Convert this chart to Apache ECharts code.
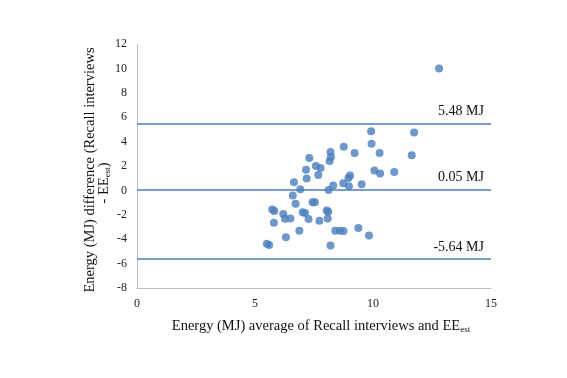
<!DOCTYPE html>
<html>
<head>
<meta charset="utf-8">
<script src="https://cdn.jsdelivr.net/npm/echarts@6/dist/echarts.min.js"></script>
<style>html,body{margin:0;padding:0;background:#fff}#c{width:567px;height:378px}</style>
</head>
<body>
<div id="c"></div>
<script>
// Bland-Altman data: x = average, y = difference
const avgValues = [12.8, 9.92, 11.74, 9.94, 8.76, 8.2, 9.22, 10.28, 11.64, 8.22, 7.3, 8.16, 7.16, 7.58, 7.78, 7.68, 7.19, 10.06, 10.3, 10.9, 9.03, 8.96, 8.74, 8.98, 9.52, 8.31, 8.12, 6.92, 6.65, 6.6, 6.72, 7.44, 7.54, 5.73, 5.82, 6.2, 6.27, 6.5, 7.02, 7.12, 7.27, 5.8, 7.73, 8.04, 8.1, 8.08, 6.88, 6.31, 5.5, 5.6, 8.2, 8.4, 8.6, 8.75, 9.38, 9.83];
const diffValues = [10.0, 4.84, 4.75, 3.83, 3.58, 3.14, 3.06, 3.06, 2.89, 2.73, 2.65, 2.4, 1.7, 2.0, 1.83, 1.27, 0.98, 1.64, 1.39, 1.5, 1.23, 1.01, 0.58, 0.33, 0.5, 0.41, 0.03, 0.1, 0.67, -0.41, -1.09, -0.98, -0.98, -1.56, -1.68, -1.94, -2.32, -2.3, -1.8, -1.85, -2.35, -2.66, -2.48, -1.64, -1.75, -2.3, -3.3, -3.83, -4.37, -4.48, -4.52, -3.3, -3.3, -3.33, -3.08, -3.69];
const limitValues = [5.48, 0.05, -5.64];
const limitUnit = 'MJ';
const xTicks = {min: 0, max: 15, interval: 5};
const yTicks = {min: -8, max: 12, interval: 2};

const points = avgValues.map((x, i) => [x, diffValues[i]]);
const serif = '"Liberation Serif", "Times New Roman", serif';
const blue = '#4A7EBB';

const chart = echarts.init(document.getElementById('c'), null, {renderer: 'canvas'});
chart.setOption({
  animation: false,
  backgroundColor: '#fff',
  grid: {left: 137, right: 76, top: 44, bottom: 90, containLabel: false},
  xAxis: {
    type: 'value', min: xTicks.min, max: xTicks.max, interval: xTicks.interval,
    axisLine: {show: true, onZero: false, lineStyle: {color: '#BFBFBF', width: 1}},
    axisTick: {show: false},
    splitLine: {show: false},
    axisLabel: {color: '#222', fontFamily: serif, fontSize: 12, margin: 10}
  },
  yAxis: {
    type: 'value', min: yTicks.min, max: yTicks.max, interval: yTicks.interval,
    axisLine: {show: true, onZero: false, lineStyle: {color: '#BFBFBF', width: 1}},
    axisTick: {show: false},
    splitLine: {show: false},
    axisLabel: {color: '#222', fontFamily: serif, fontSize: 12, margin: 10}
  },
  series: [{
    type: 'scatter',
    data: points,
    symbol: 'circle',
    symbolSize: 8,
    itemStyle: {color: blue},
    markLine: {
      silent: true,
      symbol: 'none',
      lineStyle: {color: blue, type: 'solid', width: 1.5},
      label: {
        show: true,
        position: 'insideEndTop',
        formatter: p => p.value.toFixed(2) + ' ' + limitUnit,
        color: '#111',
        fontFamily: serif,
        fontSize: 14,
        distance: [7, 5]
      },
      data: limitValues.map(v => ({yAxis: v}))
    }
  }],
  graphic: [
    {
      type: 'text', x: 321, y: 326,
      style: {
        x: 0, y: 0, align: 'center', verticalAlign: 'middle',
        text: '{n|Energy (MJ) average of Recall interviews and EE}{s|est}',
        rich: {
          n: {fontFamily: serif, fontSize: 14.5, fill: '#111', verticalAlign: 'bottom', lineHeight: 16},
          s: {fontFamily: serif, fontSize: 9, fill: '#111', verticalAlign: 'bottom', lineHeight: 11}
        }
      }
    },
    {
      type: 'text', x: 90, y: 170, rotation: Math.PI / 2,
      style: {
        x: 0, y: 0, align: 'center', verticalAlign: 'middle',
        text: 'Energy (MJ) difference (Recall interviews',
        fontFamily: serif, fontSize: 14.5, fill: '#111'
      }
    },
    {
      type: 'text', x: 104, y: 183, rotation: Math.PI / 2,
      style: {
        x: 0, y: 0, align: 'center', verticalAlign: 'middle',
        text: '{n|- EE}{s|est}{n|)}',
        rich: {
          n: {fontFamily: serif, fontSize: 14.5, fill: '#111', verticalAlign: 'bottom', lineHeight: 16},
          s: {fontFamily: serif, fontSize: 9, fill: '#111', verticalAlign: 'bottom', lineHeight: 11}
        }
      }
    }
  ]
});
</script>
</body>
</html>
